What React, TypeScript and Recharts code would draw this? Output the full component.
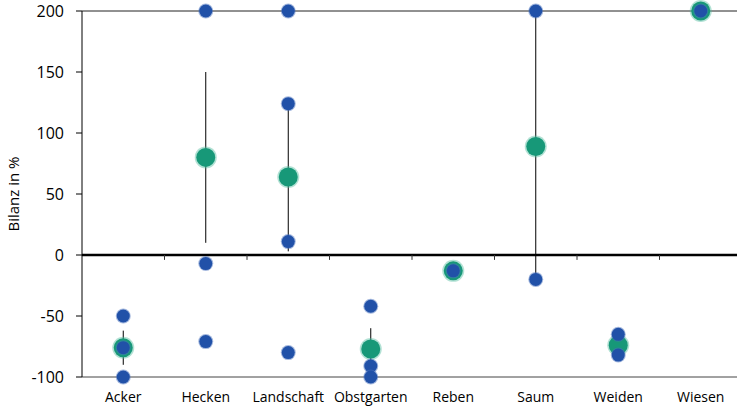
import { ComposedChart, Scatter, XAxis, YAxis, ReferenceLine, ErrorBar } from 'recharts';

const categories = ['Acker', 'Hecken', 'Landschaft', 'Obstgarten', 'Reben', 'Saum', 'Weiden', 'Wiesen'];

// mean value per category (green) and half-length of the error bar
const means = [-76, 80, 64, -77, -13, 89, -74, 200];
const errors = [14, 70, 61, 17, 0, 110, 6, 0];

// single values per category (blue)
const singles = [
  [-50, -76, -100],
  [200, -7, -71],
  [200, 124, 11, -80],
  [-42, -91, -100],
  [-13],
  [200, -20],
  [-65, -82],
  [200],
];

const yTicks = [-100, -50, 0, 50, 100, 150, 200];

const meanData = categories.map((c, i) => ({ x: i + 0.5, y: means[i], err: errors[i], name: c }));
const singleData = singles.flatMap((vals, i) => vals.map((v) => ({ x: i + 0.5, y: v })));
const centers = categories.map((_, i) => i + 0.5);
const bounds = categories.slice(1).map((_, i) => i + 1);

const font = '"Open Sans", sans-serif';

const GreenDot = (props: any) => {
  const { cx, cy } = props;
  return (
    <g>
      <circle cx={cx} cy={cy} r={11} fill="#55bca0" opacity={0.45} />
      <circle cx={cx} cy={cy} r={9.5} fill="#179878" />
    </g>
  );
};

const BlueDot = (props: any) => {
  const { cx, cy } = props;
  return (
    <g>
      <circle cx={cx} cy={cy} r={7.5} fill="#4a72bd" opacity={0.5} />
      <circle cx={cx} cy={cy} r={6.5} fill="#2151a8" />
    </g>
  );
};

const YLabel = (props: any) => {
  const { viewBox } = props;
  const x = 15;
  const y = viewBox.y + viewBox.height / 2;
  return (
    <text x={x} y={y} transform={`rotate(-90 ${x} ${y})`} textAnchor="middle" dominantBaseline="middle"
      fontFamily={font} fontSize={15} fill="#000">
      Bilanz in %
    </text>
  );
};

export default function App() {
  return (
    <div style={{ position: 'fixed', left: 0, top: 0, width: 737, height: 410, overflow: 'hidden', background: '#fff' }}>
      <ComposedChart width={750} height={410} margin={{ top: 11, right: 8, left: 22, bottom: 8 }}>
        <XAxis
          type="number"
          dataKey="x"
          domain={[0, categories.length]}
          ticks={centers}
          tickFormatter={(v) => categories[Math.floor(v)]}
          axisLine={{ stroke: '#444' }}
          tickLine={false}
          tickSize={6}
          tickMargin={9}
          height={25}
          interval={0}
          tick={{ fontSize: 14, fill: '#000', fontFamily: font }}
        />
        <YAxis
          type="number"
          dataKey="y"
          domain={[-100, 200]}
          ticks={yTicks}
          width={60}
          axisLine={{ stroke: '#000' }}
          tickLine={{ stroke: '#000' }}
          tickSize={6}
          tickMargin={12}
          tick={{ fontSize: 16, fill: '#000', fontFamily: font }}
          label={<YLabel />}
        />
        <ReferenceLine y={200} stroke="#222" strokeWidth={1} />
        <ReferenceLine y={0} stroke="#000" strokeWidth={2.5} />
        {bounds.map((b) => (
          <ReferenceLine key={b} segment={[{ x: b, y: 0 }, { x: b, y: -4 }]} stroke="#333" strokeWidth={1} />
        ))}
        <Scatter data={meanData} shape={() => <g />} isAnimationActive={false}>
          <ErrorBar dataKey="err" direction="y" width={0} stroke="#000" strokeWidth={1} />
        </Scatter>
        <Scatter data={meanData} shape={<GreenDot />} isAnimationActive={false} />
        <Scatter data={singleData} shape={<BlueDot />} isAnimationActive={false} />
      </ComposedChart>
    </div>
  );
}
